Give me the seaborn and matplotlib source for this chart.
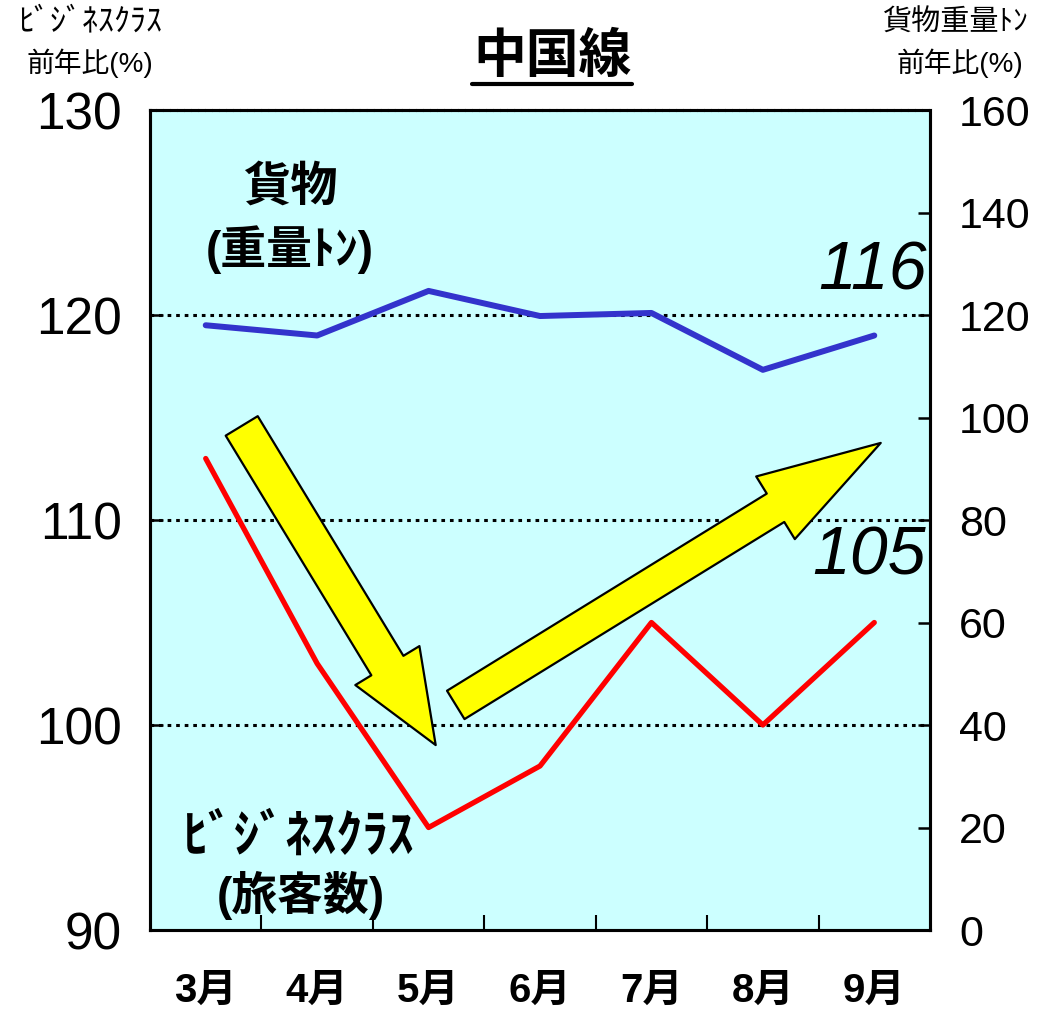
import matplotlib
matplotlib.use("Agg")
import matplotlib.pyplot as plt
from matplotlib.lines import Line2D
from matplotlib.ticker import FixedLocator, NullFormatter
import seaborn as sns
import pandas as pd

months = ["3月", "4月", "5月", "6月", "7月", "8月", "9月"]
business = [113, 103, 95, 98, 105, 100, 105]
cargo = [118, 116, 124.7, 119.8, 120.4, 109.3, 116]
left_ticks = [90, 100, 110, 120, 130]
right_ticks = [0, 20, 40, 60, 80, 100, 120, 140, 160]
grid_levels = [100, 110, 120]

sns.set_style("white")
FAM = ['Liberation Sans', 'Noto Sans CJK JP', 'DejaVu Sans']
plt.rcParams['font.family'] = FAM
plt.rcParams.update({"text.color": "black", "xtick.color": "black", "ytick.color": "black",
                     "axes.labelcolor": "black"})

df = pd.DataFrame({"month": months, "business": business, "cargo": cargo})

fig = plt.figure(figsize=(10.43, 10.22), dpi=100)
ax = fig.add_axes([150/1043, 1-930/1022, 780/1043, 820/1022])
ax.set_facecolor("#CCFFFF")

sns.lineplot(data=df, x="month", y="business", ax=ax, color="#FF0000", lw=3.8, sort=False)
ax.set_xlim(-0.5, 6.5)
ax.set_ylim(90, 130)
for g in grid_levels:
    ax.axhline(g, color="black", lw=2.2, ls=(0, (1.2, 1.6)), zorder=1)

ax2 = ax.twinx()
sns.lineplot(data=df, x="month", y="cargo", ax=ax2, color="#3333CC", lw=4.3, sort=False,
             solid_capstyle="round")
ax2.set_ylim(0, 160)
ax2.set_xlim(-0.5, 6.5)

for a in (ax, ax2):
    a.set_xlabel("")
    a.set_ylabel("")
    for s in a.spines.values():
        s.set_color("black")
        s.set_linewidth(2.2)
    a.spines["top"].set_linestyle((0, (1.5, 0.8)))

ax.set_yticks(left_ticks)
ax.set_yticklabels([str(v) for v in left_ticks], fontsize=37)
ax.tick_params(axis="y", direction="in", length=9, width=1.8, pad=20, left=True)

ax2.set_yticks(right_ticks)
ax2.set_yticklabels([str(v) for v in right_ticks], fontsize=31)
ax2.tick_params(axis="y", direction="in", length=9, width=1.8, pad=21, right=True)

ax.set_xticks(range(len(months)))
ax.set_xticklabels(months, fontsize=29, fontweight="bold")
ax.tick_params(axis="x", length=0, pad=30)
ax.xaxis.set_minor_locator(FixedLocator([i + 0.5 for i in range(len(months) - 1)]))
ax.xaxis.set_minor_formatter(NullFormatter())
ax.tick_params(axis="x", which="minor", direction="in", length=11, width=1.5, bottom=True)
ax2.tick_params(axis="x", length=0)

arrow_kw = dict(fc="#FFFF00", ec="black", lw=1.6, shrinkA=0, shrinkB=0, mutation_scale=1)
ax.annotate("", xy=(2.064, 99.02), xytext=(0.323, 114.59),
            arrowprops=dict(arrowstyle="simple,head_length=67,head_width=54,tail_width=27", **arrow_kw),
            zorder=5)
ax.annotate("", xy=(6.058, 113.76), xytext=(2.244, 100.98),
            arrowprops=dict(arrowstyle="simple,head_length=89,head_width=53,tail_width=24", **arrow_kw),
            zorder=5)

ax.text(0.763, 126.2, "貨物", fontsize=34, fontweight="bold", ha="center", va="center")
ax.text(0.75, 123.17, "(重量ﾄﾝ)", fontsize=33, fontweight="bold", ha="center", va="center")
ax.text(0.835, 94.49, "ﾋﾞｼﾞﾈｽｸﾗｽ", fontsize=37, fontweight="bold", ha="center", va="center")
ax.text(0.853, 91.66, "(旅客数)", fontsize=33, fontweight="bold", ha="center", va="center")
ax.text(5.98, 122.1, "116", fontsize=49, style="italic", ha="center", va="center")
ax.text(5.95, 108.2, "105", fontsize=49, style="italic", ha="center", va="center")

fig.text(0.0863, 0.978, "ﾋﾞｼﾞﾈｽｸﾗｽ", fontsize=23, ha="center", va="center")
fig.text(0.0863, 0.938, "前年比(%)", fontsize=20, ha="center", va="center")
fig.text(0.9156, 0.978, "貨物重量ﾄﾝ", fontsize=21, ha="center", va="center")
fig.text(0.920, 0.938, "前年比(%)", fontsize=20, ha="center", va="center")

fig.text(552/1043, 1-58/1022, "中国線", fontsize=38, fontweight="bold", ha="center", va="center")
fig.add_artist(Line2D([472/1043, 632/1043], [1-84/1022, 1-84/1022], color="black", lw=3,
                      transform=fig.transFigure))

fig.savefig("out.png", dpi=100, facecolor="white")
